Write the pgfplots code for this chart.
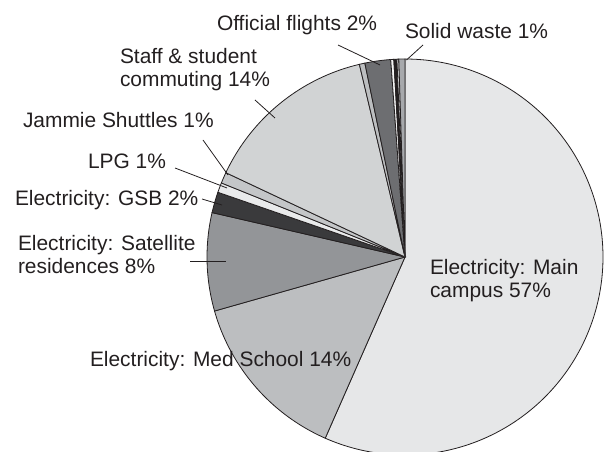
\documentclass[border=0pt]{standalone}
\usepackage{fontspec}
\setmainfont{Liberation Sans}
\usepackage{pgfplots}
\usepackage{pgfplotstable}
\pgfplotsset{compat=1.18}

\definecolor{txt}{HTML}{231F20}
\definecolor{cMain}{HTML}{E6E7E8}
\definecolor{cMed}{HTML}{BCBEC0}
\definecolor{cSat}{HTML}{939598}
\definecolor{cGSB}{HTML}{3A3A3C}
\definecolor{cLPG}{HTML}{E9EAEB}
\definecolor{cJam}{HTML}{C4C6C8}
\definecolor{cCom}{HTML}{D1D3D4}
\definecolor{cThin}{HTML}{BCBEC0}
\definecolor{cFly}{HTML}{6D6E71}
\definecolor{cWhite}{HTML}{F4F4F4}
\definecolor{cBlack}{HTML}{231F20}
\definecolor{cGap}{HTML}{E6E7E8}
\definecolor{cSolid}{HTML}{A7A9AC}

% slices clockwise from 12 o'clock, share in percent
\pgfplotstableread[col sep=comma]{
name,value,color
Electricity: Main campus,56.6,cMain
Electricity: Med School,14.0,cMed
Electricity: Satellite residences,8.0,cSat
Electricity: GSB,1.7,cGSB
LPG,0.8,cLPG
Jammie Shuttles,0.9,cJam
Staff and student commuting,14.3,cCom
other,0.45,cThin
Official flights,2.1,cFly
other,0.25,cWhite
other,0.25,cBlack
other,0.15,cGap
Solid waste,0.5,cSolid
}\slices

\begin{document}
\begin{tikzpicture}
\begin{axis}[
    width=608bp, height=452bp,
    scale only axis,
    xmin=0, xmax=608, ymin=0, ymax=452,
    hide axis,
    clip=true,
]
\path (rel axis cs:0,0) rectangle (rel axis cs:1,1);

\pgfplotstablegetrowsof{\slices}
\pgfmathtruncatemacro\nrows{\pgfplotsretval-1}
\def\cum{0}
\pgfplotsforeachungrouped \i in {0,...,\nrows}{
    \pgfplotstablegetelem{\i}{value}\of\slices \let\sval\pgfplotsretval
    \pgfplotstablegetelem{\i}{color}\of\slices \let\scol\pgfplotsretval
    \pgfmathsetmacro\aStart{90-3.6*\cum}
    \pgfmathsetmacro\cum{\cum+\sval}
    \pgfmathsetmacro\aEnd{90-3.6*\cum}
    \pgfmathtruncatemacro\ns{max(4,3*\sval)}
    \edef\doslice{\noexpand\addplot[fill=\scol, draw=txt, line width=0.8bp,
        domain=\aEnd:\aStart, samples=\ns, variable=\noexpand\t]
        ({405+198*cos(\noexpand\t)},{195+198*sin(\noexpand\t)})
        -- (axis cs:405,195) -- cycle;}
    \doslice
}

% leader lines
\draw[txt, line width=0.8bp] (axis cs:338,407) -- (axis cs:380,387);
\draw[txt, line width=0.8bp] (axis cs:423,407) -- (axis cs:406.5,392);
\draw[txt, line width=0.8bp] (axis cs:255,352) -- (axis cs:275,334);
\draw[txt, line width=0.8bp] (axis cs:203,312) -- (axis cs:228,277);
\draw[txt, line width=0.8bp] (axis cs:175,284) -- (axis cs:227,264);
\draw[txt, line width=0.8bp] (axis cs:202,253) -- (axis cs:222,247);
\draw[txt, line width=0.8bp] (axis cs:190,191) -- (axis cs:226,191);

% labels
\tikzset{lab/.style={anchor=base west, inner sep=0pt, outer sep=0pt,
    text=txt, font=\fontsize{21}{23}\selectfont}}
\node[lab] at (axis cs:217,421) {Official flights 2\%};
\node[lab] at (axis cs:405,413.5) {Solid waste 1\%};
\node[lab] at (axis cs:120,388) {Staff \& student};
\node[lab] at (axis cs:120,365) {commuting 14\%};
\node[lab] at (axis cs:23,324) {Jammie Shuttles 1\%};
\node[lab] at (axis cs:88,283) {LPG 1\%};
\node[lab] at (axis cs:15,246) {Electricity: GSB 2\%};
\node[lab] at (axis cs:18,201) {Electricity: Satellite};
\node[lab] at (axis cs:18,178.5) {residences 8\%};
\node[lab] at (axis cs:430,177) {Electricity: Main};
\node[lab] at (axis cs:430,154) {campus 57\%};
\node[lab] at (axis cs:90,85) {Electricity: Med School 14\%};
\end{axis}
\end{tikzpicture}
\end{document}
